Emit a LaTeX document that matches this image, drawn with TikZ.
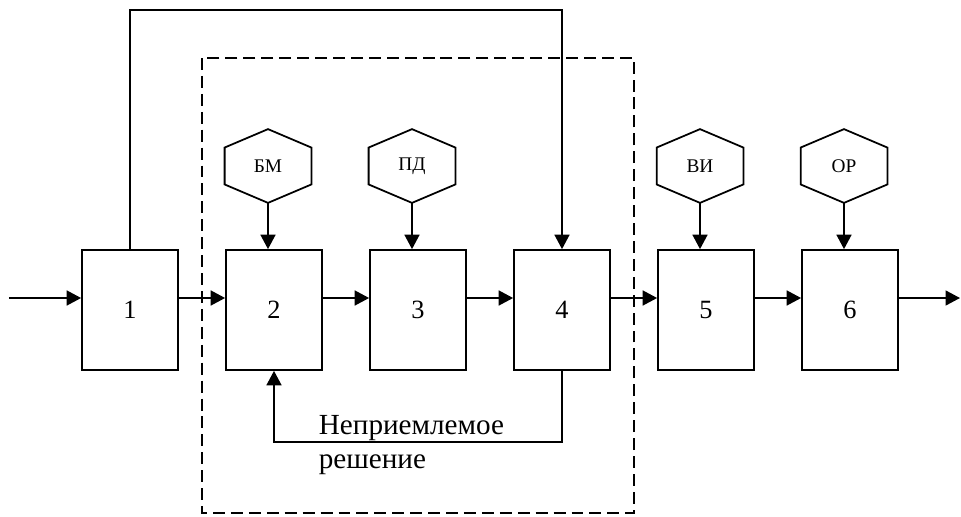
\documentclass[tikz,border=0pt]{standalone}
\usepackage{fontspec}
\setmainfont{Liberation Serif}
\usetikzlibrary{arrows.meta,calc}

\begin{document}
\begin{tikzpicture}[node distance=2.88cm,>={Triangle[length=0.29cm,width=0.3cm]},line width=1pt]
	\tikzstyle{block}=[rectangle, draw=black, minimum width=1.92cm, minimum height=2.4cm, font=\fontsize{15}{18}\selectfont]
	\tikzstyle{hexa}=[rectangle, minimum width=1.7cm, minimum height=1.44cm, inner sep=0pt, font=\fontsize{11}{13}\selectfont]
	\tikzstyle{flow}=[->]

	\useasboundingbox (0,0) rectangle (19.22,10.32);

	% chain of blocks
	\node [block] (b1) at (2.6,4.12) {1};
	\node [block] (b2) [right of=b1] {2};
	\node [block] (b3) [right of=b2] {3};
	\node [block] (b4) [right of=b3] {4};
	\node [block] (b5) [right of=b4] {5};
	\node [block] (b6) [right of=b5] {6};

	% inputs on top
	\node [hexa] (bm) [above of=b2, xshift=-0.12cm] {БМ};
	\node [hexa] (pd) [above of=b3, xshift=-0.12cm] {ПД};
	\node [hexa] (vi) [above of=b5, xshift=-0.12cm] {ВИ};
	\node [hexa] (or) [above of=b6, xshift=-0.12cm] {ОР};
	\foreach \h in {bm,pd,vi,or}
		\draw (\h.north) -- ($(\h.north east)!0.25!(\h.south east)$) -- ($(\h.north east)!0.75!(\h.south east)$)
			-- (\h.south) -- ($(\h.south west)!0.25!(\h.north west)$) -- ($(\h.south west)!0.75!(\h.north west)$) -- cycle;

	\draw [flow] (bm.south) -- (bm.south |- b2.north);
	\draw [flow] (pd.south) -- (pd.south |- b3.north);
	\draw [flow] (vi.south) -- (vi.south |- b5.north);
	\draw [flow] (or.south) -- (or.south |- b6.north);

	% main line
	\coordinate (in) at (0.18,4.36);
	\coordinate (out) at (19.2,4.36);
	\draw [flow] (in) -- (in -| b1.west);
	\foreach \a/\b in {b1/b2,b2/b3,b3/b4,b4/b5,b5/b6}
		\draw [flow] ([yshift=0.24cm]\a.east) -- ([yshift=0.24cm]\b.west);
	\draw [flow] ([yshift=0.24cm]b6.east) -- (out);

	% bypass over the top and return loop
	\coordinate (top) at (0,10.12);
	\coordinate (low) at (0,1.48);
	\draw [flow] (b1.north) -- (b1.north |- top) -| (b4.north);
	\draw [flow] (b4.south) -- (b4.south |- low) -| (b2.south);
	\node [anchor=north west, align=left, inner sep=0pt, font=\fontsize{16.6}{19.3}\selectfont] (reject) at (6.36,2.02) {Неприемлемое\\решение};

	% dashed frame
	\draw [dash pattern=on 6.8pt off 3.4pt] (4.04,9.16) rectangle (12.68,0.06);
\end{tikzpicture}
\end{document}
